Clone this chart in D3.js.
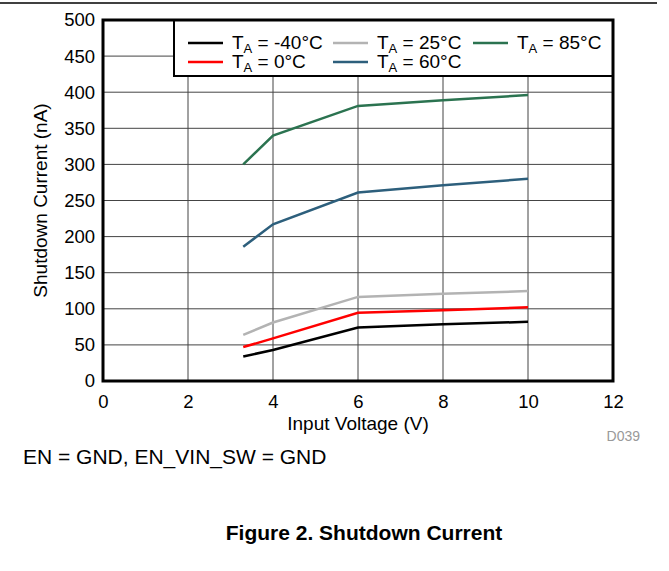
<!DOCTYPE html>
<html>
<head>
<meta charset="utf-8">
<script src="https://cdn.jsdelivr.net/npm/d3@7"></script>
<style>
  body { margin: 0; background: #fff; }
  text { font-family: "Liberation Sans", Arial, sans-serif; }
</style>
</head>
<body>
<div id="chart"></div>
<script>
(function() {
  var voltage = [3.3, 4, 6, 8, 10];
  var seriesNames = ["-40", "0", "25", "60", "85"];
  var seriesColors = ["#000000", "#ff0000", "#b3b3b3", "#2d5f7c", "#2b7350"];
  var tempM40 = [34, 43, 74, 78.5, 82];
  var temp0 = [47, 59, 94.5, 98, 102];
  var temp25 = [64, 81, 116.5, 121, 124.5];
  var temp60 = [186, 217, 261, 271, 280];
  var temp85 = [300, 340, 381, 389, 396];
  var xTicks = [0, 2, 4, 6, 8, 10, 12];
  var yTicks = [0, 50, 100, 150, 200, 250, 300, 350, 400, 450, 500];

  var allSeries = [tempM40, temp0, temp25, temp60, temp85];

  var width = 669, height = 571;
  var left = 103, right = 613, top = 20, bottom = 381;
  var font = "Liberation Sans, Arial, sans-serif";

  var svg = d3.select("#chart").append("svg")
    .attr("width", width).attr("height", height);

  var x = d3.scaleLinear().domain([0, 12]).range([left, right]);
  var y = d3.scaleLinear().domain([0, 500]).range([bottom, top]);

  // page rule at top
  svg.append("line").attr("x1", 0).attr("x2", 657).attr("y1", 3).attr("y2", 3)
    .attr("stroke", "#000").attr("stroke-width", 1.5);

  // grid
  svg.append("g").selectAll("line").data(xTicks.slice(1, -1)).enter().append("line")
    .attr("x1", x).attr("x2", x).attr("y1", top).attr("y2", bottom)
    .attr("stroke", "#444").attr("stroke-width", 1);
  svg.append("g").selectAll("line").data(yTicks.slice(1, -1)).enter().append("line")
    .attr("x1", left).attr("x2", right).attr("y1", y).attr("y2", y)
    .attr("stroke", "#444").attr("stroke-width", 1);

  // tick labels
  var xAxis = d3.axisBottom(x).tickValues(xTicks).tickSize(0).tickPadding(14);
  var gx = svg.append("g").attr("transform", "translate(0," + bottom + ")").call(xAxis);
  gx.select(".domain").remove();
  gx.selectAll("text").attr("font-size", 18.5).attr("fill", "#000").attr("font-family", font);

  var yAxis = d3.axisLeft(y).tickValues(yTicks).tickSize(0).tickPadding(8);
  var gy = svg.append("g").attr("transform", "translate(" + left + ",0)").call(yAxis);
  gy.select(".domain").remove();
  gy.selectAll("text").attr("font-size", 18.5).attr("fill", "#000").attr("font-family", font);

  // series
  var line = d3.line()
    .x(function(d, i) { return x(voltage[i]); })
    .y(function(d) { return y(d); });
  svg.append("g").selectAll("path").data(allSeries).enter().append("path")
    .attr("d", line)
    .attr("fill", "none")
    .attr("stroke", function(d, i) { return seriesColors[i]; })
    .attr("stroke-width", 2.5);

  // legend
  svg.append("rect").attr("x", 174).attr("y", top).attr("width", right - 174).attr("height", 56)
    .attr("fill", "#fff").attr("stroke", "#000").attr("stroke-width", 2);
  var legendPos = [[188, 43], [188, 62], [333, 43], [333, 62], [473, 43]];
  var lg = svg.append("g").selectAll("g").data(seriesNames).enter().append("g")
    .attr("transform", function(d, i) { return "translate(" + legendPos[i][0] + "," + legendPos[i][1] + ")"; });
  lg.append("line").attr("x1", 0).attr("x2", 35).attr("y1", 0).attr("y2", 0)
    .attr("stroke", function(d, i) { return seriesColors[i]; }).attr("stroke-width", 2.5);
  var lt = lg.append("text").attr("x", 44).attr("y", 6).attr("font-size", 19);
  lt.append("tspan").text("T");
  lt.append("tspan").attr("font-size", 13).attr("dy", 4).text("A");
  lt.append("tspan").attr("dy", -4).text(function(d) { return " = " + d + "°C"; });

  // frame
  svg.append("rect").attr("x", left).attr("y", top).attr("width", right - left).attr("height", bottom - top)
    .attr("fill", "none").attr("stroke", "#000").attr("stroke-width", 3);

  // titles
  svg.append("text").attr("transform", "translate(47," + ((top + bottom) / 2) + ") rotate(-90)")
    .attr("text-anchor", "middle").attr("font-size", 19).text("Shutdown Current (nA)");
  svg.append("text").attr("x", x(6)).attr("y", 430).attr("text-anchor", "middle")
    .attr("font-size", 19).text("Input Voltage (V)");
  svg.append("text").attr("x", 640).attr("y", 441).attr("text-anchor", "end")
    .attr("font-size", 14).attr("fill", "#999").text("D039");
  svg.append("text").attr("x", 23).attr("y", 464).attr("font-size", 21)
    .text("EN = GND, EN_VIN_SW = GND");
  svg.append("text").attr("x", 364).attr("y", 540).attr("text-anchor", "middle")
    .attr("font-size", 21).attr("font-weight", "bold").text("Figure 2. Shutdown Current");
})();
</script>
</body>
</html>
